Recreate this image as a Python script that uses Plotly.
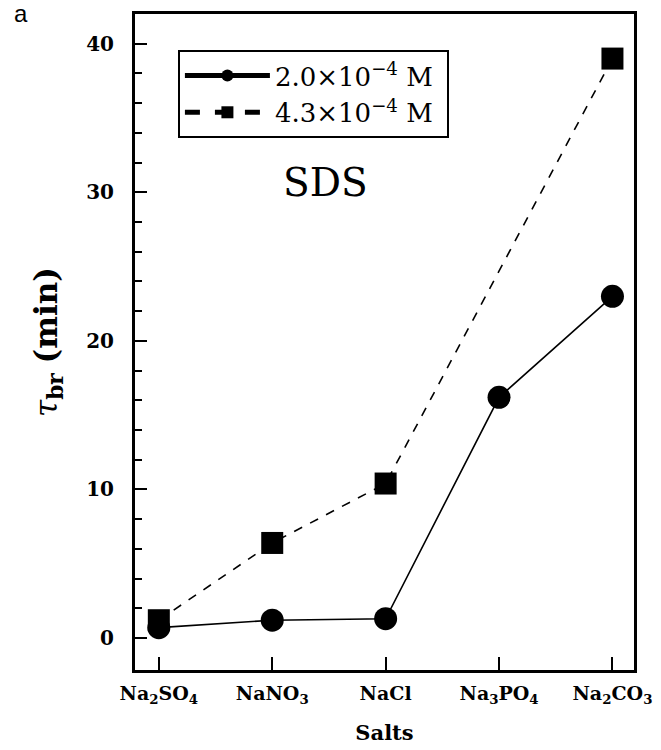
import plotly.graph_objects as go

salts = ["Na<sub>2</sub>SO<sub>4</sub>", "NaNO<sub>3</sub>", "NaCl", "Na<sub>3</sub>PO<sub>4</sub>", "Na<sub>2</sub>CO<sub>3</sub>"]
x_idx = [0, 1, 2, 3, 4]
tau_low = [0.7, 1.2, 1.3, 16.2, 23.0]      # 2.0e-4 M
x_high = [0, 1, 2, 4]
tau_high_vals = [1.2, 6.4, 10.4, 39.0]     # 4.3e-4 M (no Na3PO4 point)

serif = "DejaVu Serif, Liberation Serif, serif"

fig = go.Figure()
fig.add_trace(go.Scatter(
    x=x_idx, y=tau_low, mode="lines+markers",
    name="2.0×10<sup>−4</sup> M ",
    line=dict(color="black", width=1.6),
    marker=dict(symbol="circle", size=23, color="black"),
))
fig.add_trace(go.Scatter(
    x=x_high, y=tau_high_vals, mode="lines+markers",
    name="4.3×10<sup>−4</sup> M ",
    line=dict(color="black", width=1.6, dash="dash"),
    marker=dict(symbol="square", size=22, color="black"),
))

fig.update_layout(
    width=661, height=750,
    margin=dict(l=135, r=27, t=14, b=80, autoexpand=False),
    paper_bgcolor="white", plot_bgcolor="white",
    showlegend=True,
    legend=dict(
        x=0.086, y=0.945, xanchor="left", yanchor="top",
        bordercolor="black", borderwidth=2, bgcolor="white",
        font=dict(family=serif, size=26, color="black"),
        itemsizing="constant", tracegroupgap=0, itemwidth=85,
    ),
    font=dict(family=serif, color="black"),
)

fig.update_xaxes(
    range=[-0.21, 4.19], automargin=False,
    tickmode="array", tickvals=x_idx, ticktext=["<b>" + s + "</b>" for s in salts],
    ticks="inside", ticklen=13, tickwidth=2, tickcolor="black",
    showline=True, linecolor="black", linewidth=3, mirror=True,
    showgrid=False, zeroline=False, ticklabelstandoff=4,
    tickfont=dict(family=serif, size=19, color="black"),
    title=dict(text="<b>Salts</b>", font=dict(family=serif, size=21, color="black"), standoff=20),
)
fig.update_yaxes(
    range=[-2.15, 42], automargin=False,
    tickmode="array", tickvals=[0, 10, 20, 30, 40], ticktext=["<b>0</b>", "<b>10</b>", "<b>20</b>", "<b>30</b>", "<b>40</b>"],
    ticks="inside", ticklen=12, tickwidth=2, tickcolor="black",
    minor=dict(tickmode="array", tickvals=[v for v in range(0, 42, 2) if v % 10 != 0], ticks="inside", ticklen=7, tickwidth=1.5, tickcolor="black"),
    showline=True, linecolor="black", linewidth=3, mirror=True,
    showgrid=False, zeroline=False, ticklabelstandoff=14,
    tickfont=dict(family=serif, size=20, color="black"),
    title=dict(text="<i>τ</i><sub><b>br</b></sub> <b>(min)</b>", font=dict(family=serif, size=31, color="black"), standoff=20),
)

fig.add_annotation(
    xref="paper", yref="paper", x=(325 - 135) / 499, y=(670 - 182) / 656,
    xanchor="center", yanchor="middle",
    text="SDS", showarrow=False, font=dict(family=serif, size=39, color="black"),
)
fig.add_annotation(
    xref="paper", yref="paper", x=(21 - 135) / 499, y=(670 - 13) / 656,
    xanchor="center", yanchor="middle",
    text="a", showarrow=False, font=dict(family="Liberation Sans, Arial, sans-serif", size=24, color="black"),
)

fig.write_html("out.html", config={"displayModeBar": False},
               post_script="document.body.style.margin='0px';document.body.style.overflow='hidden';")
